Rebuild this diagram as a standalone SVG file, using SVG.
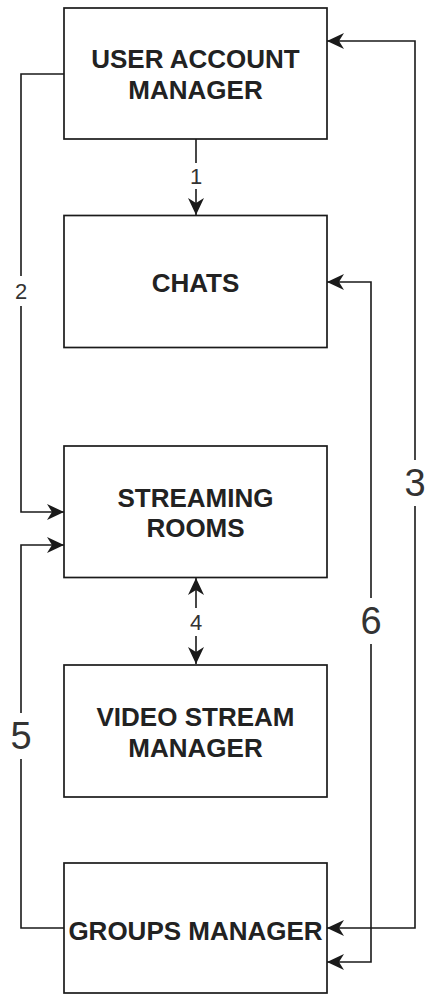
<svg xmlns="http://www.w3.org/2000/svg" width="425" height="994" viewBox="0 0 425 994">
<style>
.box{fill:#fff;stroke:#1a1a1a;stroke-width:1.7}
.bt{font-family:"Liberation Sans",Arial,sans-serif;font-size:26px;font-weight:bold;fill:#222;text-anchor:middle}
.ln{fill:none;stroke:#1a1a1a;stroke-width:1.6}
.lb{font-family:"Liberation Sans",Arial,sans-serif;font-size:22px;fill:#333;text-anchor:middle}
.lbb{font-family:"Liberation Sans",Arial,sans-serif;font-size:38px;fill:#333;text-anchor:middle}
.bg{fill:#fff}
</style>
<defs>
<marker id="arr" viewBox="-18 -9 19 18" refX="0" refY="0" markerWidth="19" markerHeight="18" markerUnits="userSpaceOnUse" orient="auto-start-reverse">
<path d="M0,0 L-17,-8 L-12,0 L-17,8 Z" fill="#1a1a1a"/>
</marker>
</defs>
<g id="connectors">
<path class="ln" d="M196,139 V215" marker-end="url(#arr)"/>
<path class="ln" d="M64,74 H21 V512 H64" marker-end="url(#arr)"/>
<path class="ln" d="M327,928 H415 V41 H327" marker-start="url(#arr)" marker-end="url(#arr)"/>
<path class="ln" d="M196,578 V664" marker-start="url(#arr)" marker-end="url(#arr)"/>
<path class="ln" d="M64,928 H21 V545 H64" marker-end="url(#arr)"/>
<path class="ln" d="M327,282 H371 V962 H327" marker-start="url(#arr)" marker-end="url(#arr)"/>
<rect class="bg" x="186" y="163" width="20" height="26"/>
<text class="lb" x="196" y="184">1</text>
<rect class="bg" x="11" y="276" width="20" height="30"/>
<text class="lb" x="21" y="299">2</text>
<rect class="bg" x="402" y="460" width="26" height="46"/>
<text class="lbb" x="415" y="496">3</text>
<rect class="bg" x="186" y="608" width="20" height="28"/>
<text class="lb" x="196" y="630">4</text>
<rect class="bg" x="8" y="713" width="26" height="46"/>
<text class="lbb" x="21" y="749">5</text>
<rect class="bg" x="358" y="598" width="26" height="46"/>
<text class="lbb" x="371" y="634">6</text>
</g>
<g id="user-account-manager">
<rect class="box" x="64" y="8" width="263" height="131"/>
<text class="bt" x="195.5" y="68">USER ACCOUNT</text>
<text class="bt" x="195.5" y="99">MANAGER</text>
</g>
<g id="chats">
<rect class="box" x="64" y="215.5" width="263" height="132"/>
<text class="bt" x="195.5" y="292">CHATS</text>
</g>
<g id="streaming-rooms">
<rect class="box" x="64" y="446" width="263" height="131.5"/>
<text class="bt" x="195.5" y="507">STREAMING</text>
<text class="bt" x="195.5" y="537">ROOMS</text>
</g>
<g id="video-stream-manager">
<rect class="box" x="64" y="665" width="263" height="132"/>
<text class="bt" x="195.5" y="726">VIDEO STREAM</text>
<text class="bt" x="195.5" y="757">MANAGER</text>
</g>
<g id="groups-manager">
<rect class="box" x="64" y="863" width="263" height="130"/>
<text class="bt" x="195.5" y="940">GROUPS MANAGER</text>
</g>
</svg>
